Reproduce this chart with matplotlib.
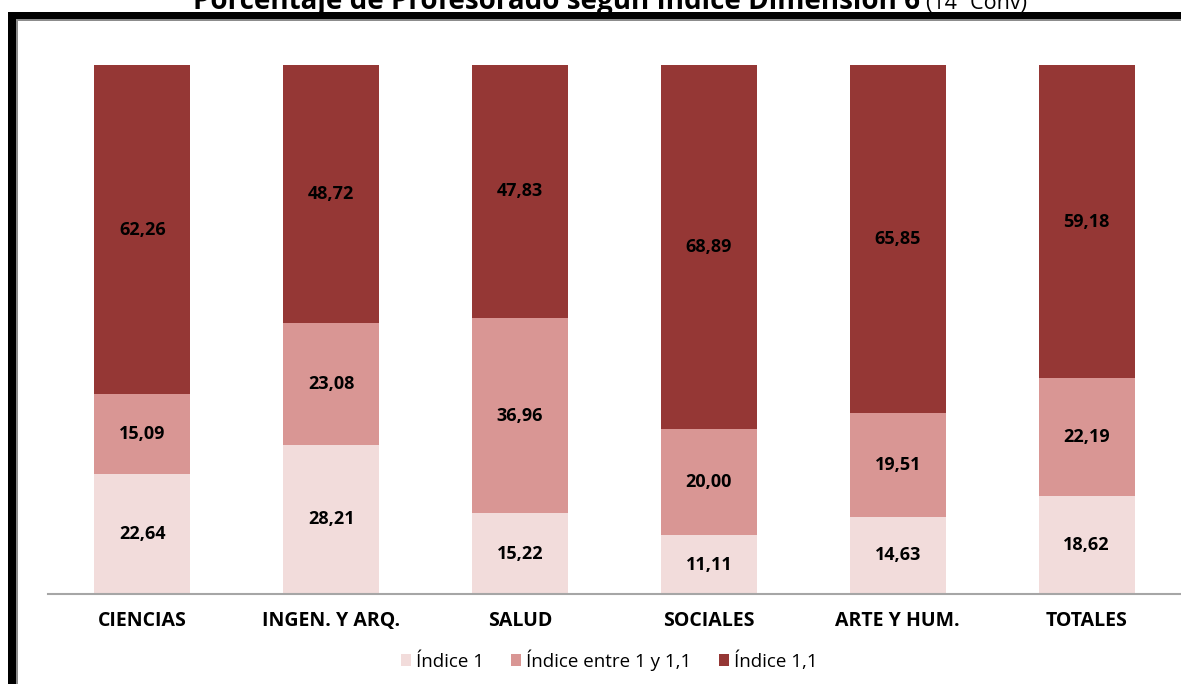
import matplotlib
matplotlib.use("Agg")
import matplotlib.pyplot as plt
from matplotlib.patches import Rectangle
import numpy as np

categories = ["CIENCIAS", "INGEN. Y ARQ.", "SALUD", "SOCIALES", "ARTE Y HUM.", "TOTALES"]
indice_1 = [22.64, 28.21, 15.22, 11.11, 14.63, 18.62]
indice_entre = [15.09, 23.08, 36.96, 20.00, 19.51, 22.19]
indice_11 = [62.26, 48.72, 47.83, 68.89, 65.85, 59.18]
series_names = ["Índice 1", "Índice entre 1 y 1,1", "Índice 1,1"]
colors = ["#F2DCDB", "#D99694", "#953735"]

plt.rcParams['font.family'] = ['Open Sans', 'DejaVu Sans']

W, H = 1181, 684
fig = plt.figure(figsize=(W / 100, H / 100), dpi=100)

# frame border (black thick, gray inner edge)
fig.patches.append(Rectangle((8 / W, 0), 8 / W, 1 - 12 / H, transform=fig.transFigure,
                             facecolor="black", edgecolor="none", zorder=0))
fig.patches.append(Rectangle((8 / W, 1 - 19 / H), 1, 7 / H, transform=fig.transFigure,
                             facecolor="black", edgecolor="none", zorder=0))
fig.patches.append(Rectangle((16 / W, 0), 1.5 / W, 1 - 19 / H, transform=fig.transFigure,
                             facecolor="#8C8C8C", edgecolor="none", zorder=0))
fig.patches.append(Rectangle((16 / W, 1 - 20.5 / H), 1, 1.5 / H, transform=fig.transFigure,
                             facecolor="#8C8C8C", edgecolor="none", zorder=0))

ax = fig.add_axes([48 / W, 90 / H, 1 - 48 / W, (594 - 65) / H])
ax.set_facecolor("none")
x = np.arange(len(categories))
width = 0.508
bottom = np.zeros(len(categories))
for vals, col, name in zip([indice_1, indice_entre, indice_11], colors, series_names):
    vals = np.array(vals)
    ax.bar(x, vals, width, bottom=bottom, color=col, label=name, zorder=2)
    for xi, b, v in zip(x, bottom, vals):
        ax.text(xi, b + v / 2, f"{v:.2f}".replace(".", ","), ha="center", va="center",
                fontsize=13, fontweight="bold", color="black", zorder=3)
    bottom += vals

ax.set_xlim(-0.5, len(categories) - 0.5)
ax.set_ylim(0, 100)
for s in ["top", "right", "left"]:
    ax.spines[s].set_visible(False)
ax.spines["bottom"].set_color("#A6A6A6")
ax.spines["bottom"].set_linewidth(1.5)
ax.set_yticks([])
ax.set_xticks(x)
ax.set_xticklabels(categories, fontsize=14, fontweight="bold")
ax.tick_params(axis="x", length=0, pad=12)

handles, labels = ax.get_legend_handles_labels()
fig.legend(handles, labels, loc="center", bbox_to_anchor=(609 / W, 1 - 660 / H), ncol=3,
           frameon=False, fontsize=13.5, handlelength=0.55, handleheight=0.55,
           handletextpad=0.25, columnspacing=1.45)

# title (partially cut at the top, as in the reference)
renderer = fig.canvas.get_renderer()
t1 = fig.text(193 / W, 1 - 9 / H, "Porcentaje de Profesorado según Índice Dimensión 6",
              fontsize=20, fontweight="bold", ha="left", va="baseline")
bb = t1.get_window_extent(renderer=renderer)
fig.text((bb.x1 + 6) / W, 1 - 9 / H, "(14ª Conv)", fontsize=15.5, ha="left", va="baseline")

fig.savefig("out.png", dpi=100)
